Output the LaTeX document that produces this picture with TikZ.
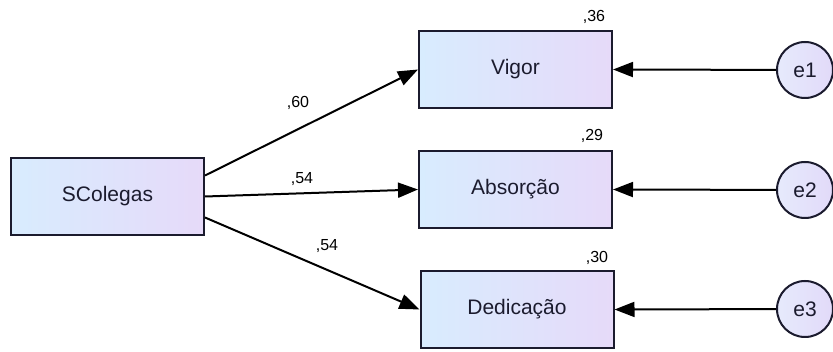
\documentclass[tikz,border=0pt]{standalone}
\usepackage{fontspec}
\setmainfont{Liberation Sans}
\usetikzlibrary{arrows.meta,calc}

\definecolor{inkdark}{HTML}{1B1B2E}
\definecolor{boxleft}{HTML}{D8ECFE}
\definecolor{boxright}{HTML}{E6DAF9}
\definecolor{errleft}{HTML}{E6EAFC}
\definecolor{errright}{HTML}{E2DAF9}

\tikzset{
  varbox/.style={draw=inkdark, line width=2pt, left color=boxleft, right color=boxright,
    minimum width=193pt, minimum height=77pt, inner sep=0pt, text=inkdark,
    font=\fontsize{21}{24}\selectfont},
  errnode/.style={circle, draw=inkdark, line width=2pt, left color=errleft, right color=errright,
    minimum size=56pt, inner sep=0pt, text=inkdark, font=\fontsize{21}{24}\selectfont},
  regpath/.style={draw=black, line width=2pt, -{Triangle[length=20pt,width=15pt]}},
  coef/.style={text=black, inner sep=0pt, font=\fontsize{16}{18}\selectfont}
}

\begin{document}
\begin{tikzpicture}[x=1pt,y=-1pt]
  \useasboundingbox (0,0) rectangle (833,352);

  % observed variables
  \node[varbox] (scol) at (107.5,196.5) {SColegas};
  \node[varbox] (vig)  at (515.5,69.5)  {Vigor};
  \node[varbox] (abs)  at (515.5,189.5) {Absorção};
  \node[varbox] (ded)  at (517,309.5)   {Dedicação};

  % error terms
  \node[errnode] (e1) at (805,70)  {e1};
  \node[errnode] (e2) at (805,190) {e2};
  \node[errnode] (e3) at (805,309) {e3};

  % squared multiple correlations
  \node[coef] (r1) at (594,17)  {,36};
  \node[coef] (r2) at (592,136) {,29};
  \node[coef] (r3) at (597,258) {,30};

  % regression paths
  \draw[regpath] ($(scol.east)+(0,-21)$) -- (vig.west);
  \draw[regpath] (scol.east) -- (abs.west);
  \draw[regpath] ($(scol.east)+(0,21)$) -- (ded.west);

  % path weights
  \node[coef] (w1) at (298,103) {,60};
  \node[coef] (w2) at (302,179) {,54};
  \node[coef] (w3) at (327,246) {,54};

  % error paths
  \draw[regpath] (e1) -- (vig.east);
  \draw[regpath] (e2) -- (abs.east);
  \draw[regpath] (e3) -- (ded.east);
\end{tikzpicture}
\end{document}
